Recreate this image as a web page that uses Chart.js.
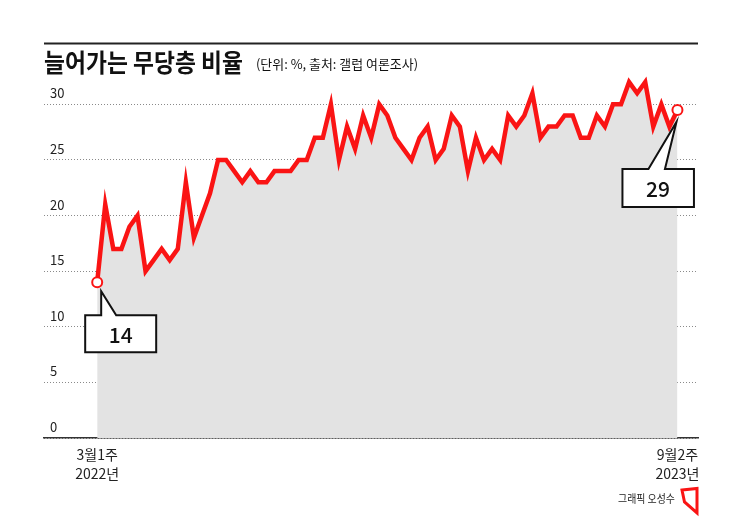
<!DOCTYPE html>
<html>
<head>
<meta charset="utf-8">
<script src="https://cdn.jsdelivr.net/npm/chart.js@4"></script>
<style>
  html, body { margin: 0; padding: 0; background: #fff; }
  #wrap { width: 745px; height: 520px; position: relative; }
</style>
</head>
<body>
<div id="wrap"><canvas id="chart" width="745" height="520"></canvas></div>
<script>
// 무당층 비율 (%), 2022년 3월1주 ~ 2023년 9월2주, 갤럽 주간 조사
const shares = [
	14, 21, 17, 17, 19, 20, 15, 16, 17, 16,
	17, 23, 18, 20, 22, 25, 25, 24, 23, 24,
	23, 23, 24, 24, 24, 25, 25, 27, 27, 30,
	25, 28, 26, 29, 27, 30, 29, 27, 26, 25,
	27, 28, 25, 26, 29, 28, 24, 27, 25, 26,
	25, 29, 28, 29, 31, 27, 28, 28, 29, 29,
	27, 27, 29, 28, 30, 30, 32, 31, 32, 28,
	30, 28, 29.5
];
const tickIdx = [0, 72];
const tickLabels = [['3월1주', '2022년'], ['9월2주', '2023년']];
const yTicks = [0, 5, 10, 15, 20, 25, 30];
const calloutText = ['14', '29'];

const titleText = '늘어가는 무당층 비율';
const subText = '(단위: %, 출처: 갤럽 여론조사)';
const creditText = '그래픽 오성수';

const FONT = "'Noto Sans CJK KR', 'Noto Sans', sans-serif";
const RED = '#fa1414';

function fitText(ctx, txt, x, y, w) {
	const m = ctx.measureText(txt).width;
	ctx.save();
	ctx.translate(x, y);
	ctx.scale(w / m, 1);
	ctx.fillText(txt, 0, 0);
	ctx.restore();
}

function callout(ctx, p, c) {
	// c: tip offset, box rect, pointer base, text centre (relative to point)
	const tx = p.x + c.tip[0], ty = p.y + c.tip[1];
	const l = p.x + c.box[0], r = p.x + c.box[1], t = p.y + c.box[2], b = p.y + c.box[3];
	ctx.save();
	ctx.beginPath();
	ctx.moveTo(l, t);
	ctx.lineTo(p.x + c.base[0], t);
	ctx.lineTo(tx, ty);
	ctx.lineTo(p.x + c.base[1], t);
	ctx.lineTo(r, t);
	ctx.lineTo(r, b);
	ctx.lineTo(l, b);
	ctx.closePath();
	ctx.fillStyle = '#fff';
	ctx.fill();
	ctx.lineWidth = 2;
	ctx.lineJoin = 'miter';
	ctx.strokeStyle = '#111';
	ctx.stroke();
	ctx.fillStyle = '#111';
	ctx.font = '500 21px ' + FONT;
	ctx.textAlign = 'center';
	ctx.textBaseline = 'middle';
	ctx.fillText(c.text, p.x + c.txt[0], p.y + c.txt[1]);
	ctx.restore();
}

const decor = {
	id: 'decor',
	afterDatasetsDraw(chart) {
		const ctx = chart.ctx;
		const pts = chart.getDatasetMeta(0).data;
		const first = pts[0], last = pts[pts.length - 1];
		callout(ctx, first, {
			tip: [4, 9], box: [-12, 59, 33, 70], base: [4, 19], txt: [23.5, 53], text: calloutText[0]
		});
		callout(ctx, last, {
			tip: [-1, 12], box: [-55, 16.5, 59, 97], base: [-29, -12.5], txt: [-19.5, 79], text: calloutText[1]
		});
		// redraw end circles on top of pointer tips
		[first, last].forEach(pt => {
			ctx.save();
			ctx.beginPath();
			ctx.arc(pt.x, pt.y, 5, 0, Math.PI * 2);
			ctx.fillStyle = '#fff';
			ctx.fill();
			ctx.lineWidth = 2;
			ctx.strokeStyle = RED;
			ctx.stroke();
			ctx.restore();
		});
	},
	afterDraw(chart) {
		const ctx = chart.ctx;
		const area = chart.chartArea;
		ctx.save();
		// top rule
		ctx.strokeStyle = '#222';
		ctx.lineWidth = 2;
		ctx.beginPath();
		ctx.moveTo(area.left, 43.5);
		ctx.lineTo(area.right, 43.5);
		ctx.stroke();

		ctx.fillStyle = '#111';
		ctx.textBaseline = 'middle';
		ctx.textAlign = 'left';
		ctx.font = 'bold 25px ' + FONT;
		fitText(ctx, titleText, 44, 62, 199);
		ctx.font = '13px ' + FONT;
		fitText(ctx, subText, 256, 64, 162);

		ctx.font = '11px ' + FONT;
		ctx.fillStyle = '#222';
		fitText(ctx, creditText, 618, 499, 57);

		// logo mark
		ctx.strokeStyle = RED;
		ctx.lineWidth = 3;
		ctx.lineJoin = 'miter';
		ctx.beginPath();
		ctx.moveTo(682, 490);
		ctx.lineTo(697, 488.5);
		ctx.lineTo(697, 513);
		ctx.lineTo(684.5, 502);
		ctx.closePath();
		ctx.stroke();
		ctx.restore();
	}
};

const ctx = document.getElementById('chart').getContext('2d');

const chart = new Chart(ctx, {
	type: 'line',
	data: {
		datasets: [{
			data: shares.map((v, i) => ({ x: i, y: v })),
			borderColor: RED,
			borderWidth: 4.5,
			borderJoinStyle: 'miter',
			backgroundColor: '#e3e3e3',
			fill: 'origin',
			tension: 0,
			pointRadius: 0,
			pointHoverRadius: 0
		}]
	},
	options: {
		animation: false,
		responsive: false,
		events: [],
		layout: {
			padding: { left: 44, right: 47, top: 71, bottom: 30 }
		},
		plugins: {
			legend: { display: false },
			title: { display: false },
			tooltip: { enabled: false }
		},
		scales: {
			x: {
				type: 'linear',
				min: -6.6,
				max: 74.55,
				afterBuildTicks: s => { s.ticks = tickIdx.map(v => ({ value: v })); },
				afterFit: s => { s.height = 52; },
				grid: { display: false },
				border: { display: true, color: '#333', width: 1.5 },
				ticks: {
					autoSkip: false,
					maxRotation: 0,
					padding: 0,
					color: '#222',
					font: { family: FONT, size: 14, lineHeight: 1.3 },
					callback: v => tickLabels[tickIdx.indexOf(v)]
				}
			},
			y: {
				min: 0,
				max: 33,
				afterBuildTicks: s => { s.ticks = yTicks.map(v => ({ value: v })); },
				afterFit: s => { s.width = 0; },
				grid: { color: '#8a8a8a', lineWidth: 1, drawTicks: false },
				border: { display: false, dash: [1, 2] },
				ticks: {
					mirror: true,
					padding: 6,
					labelOffset: -11,
					color: '#222',
					font: { family: FONT, size: 13 }
				}
			}
		}
	},
	plugins: [decor]
});
</script>
</body>
</html>
